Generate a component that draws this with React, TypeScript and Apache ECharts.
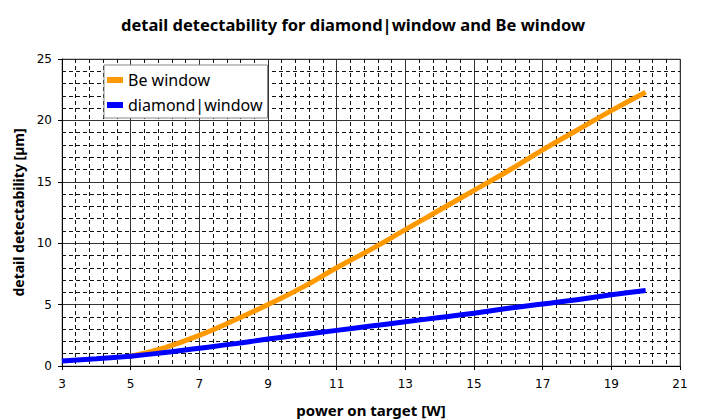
import React, { useEffect, useRef } from "react";
import * as echarts from "echarts";

const beX = [5, 6, 7, 8, 9, 10, 11, 12, 13, 14, 15, 16, 17, 18, 19, 20];
const beY = [0.8, 1.5, 2.5, 3.7, 5.0, 6.4, 8.0, 9.5, 11.1, 12.7, 14.3, 15.9, 17.6, 19.2, 20.8, 22.3];
const diaX = [3, 4, 5, 6, 7, 8, 9, 10, 11, 12, 13, 14, 15, 16, 17, 18, 19, 20];
const diaY = [0.4, 0.6, 0.8, 1.1, 1.45, 1.8, 2.2, 2.55, 2.9, 3.25, 3.6, 3.95, 4.3, 4.7, 5.05, 5.4, 5.8, 6.15];

const FONT = "'Noto Sans', sans-serif";
const TICKFONT = "'DejaVu Sans', sans-serif";

export default function App() {
  const ref = useRef<HTMLDivElement>(null);
  useEffect(() => {
    if (!ref.current) return;
    const chart = echarts.init(ref.current, null, { renderer: "svg" });
    chart.setOption({
      animation: false,
      backgroundColor: "#fff",
      title: {
        text: "detail detectability for diamond|window and Be window",
        left: 348,
        textAlign: "center",
        top: 11,
        textStyle: { fontFamily: FONT, fontSize: 16.5, fontWeight: "bold", color: "#000" },
      },
      legend: {
        orient: "vertical",
        left: 104,
        top: 65,
        backgroundColor: "#fff",
        borderColor: "#888",
        borderWidth: 1,
        borderRadius: 0,
        padding: [5, 5, 3, 3],
        itemGap: 5,
        itemWidth: 16,
        itemHeight: 6,
        icon: "rect",
        textStyle: { fontFamily: FONT, fontSize: 16, lineHeight: 20, color: "#000" },
        data: ["Be window", "diamond|window"],
      },
      grid: {
        left: 62,
        right: 21,
        top: 59,
        bottom: 54,
        outerBoundsMode: "none",
        containLabel: false,
        show: true,
        borderColor: "#999",
        borderWidth: 1,
        backgroundColor: "transparent",
      },
      xAxis: {
        type: "value",
        min: 3,
        max: 21,
        interval: 2,
        name: "power on target [W]",
        nameLocation: "middle",
        nameGap: 36,
        nameTextStyle: { fontFamily: FONT, fontSize: 15, fontWeight: "bold", color: "#000" },
        axisLine: { show: true, lineStyle: { color: "#000", width: 1 } },
        axisTick: { show: true, length: 4, lineStyle: { color: "#000" } },
        axisLabel: { fontFamily: TICKFONT, fontSize: 12, color: "#000", margin: 12 },
        splitLine: { show: true, lineStyle: { color: "#333", width: 1 } },
        minorTick: { show: false, splitNumber: 5 },
        minorSplitLine: { show: true, lineStyle: { color: "#111", width: 1, type: [4, 3] } },
      },
      yAxis: {
        type: "value",
        min: 0,
        max: 25,
        interval: 5,
        name: "detail detectability [µm]",
        nameLocation: "middle",
        nameGap: 36,
        nameTextStyle: { fontFamily: FONT, fontSize: 14, fontWeight: "bold", color: "#000" },
        axisLine: { show: true, lineStyle: { color: "#000", width: 1 } },
        axisTick: { show: true, length: 4, lineStyle: { color: "#000" } },
        axisLabel: { fontFamily: TICKFONT, fontSize: 12, color: "#000", margin: 10 },
        splitLine: { show: true, lineStyle: { color: "#333", width: 1 } },
        minorTick: { show: false, splitNumber: 5 },
        minorSplitLine: { show: true, lineStyle: { color: "#111", width: 1, type: [4, 3] } },
      },
      series: [
        {
          name: "Be window",
          type: "line",
          data: beX.map((x, i) => [x, beY[i]]),
          smooth: true,
          showSymbol: false,
          symbol: "none",
          color: "#FF9900",
          lineStyle: { color: "#FF9900", width: 5 },
          z: 3,
        },
        {
          name: "diamond|window",
          type: "line",
          data: diaX.map((x, i) => [x, diaY[i]]),
          smooth: true,
          showSymbol: false,
          symbol: "none",
          color: "#0000FF",
          lineStyle: { color: "#0000FF", width: 5 },
          z: 4,
        },
      ],
    });
    return () => chart.dispose();
  }, []);
  return <div ref={ref} style={{ width: 701, height: 420, position: "absolute", left: 0, top: 0 }} />;
}
